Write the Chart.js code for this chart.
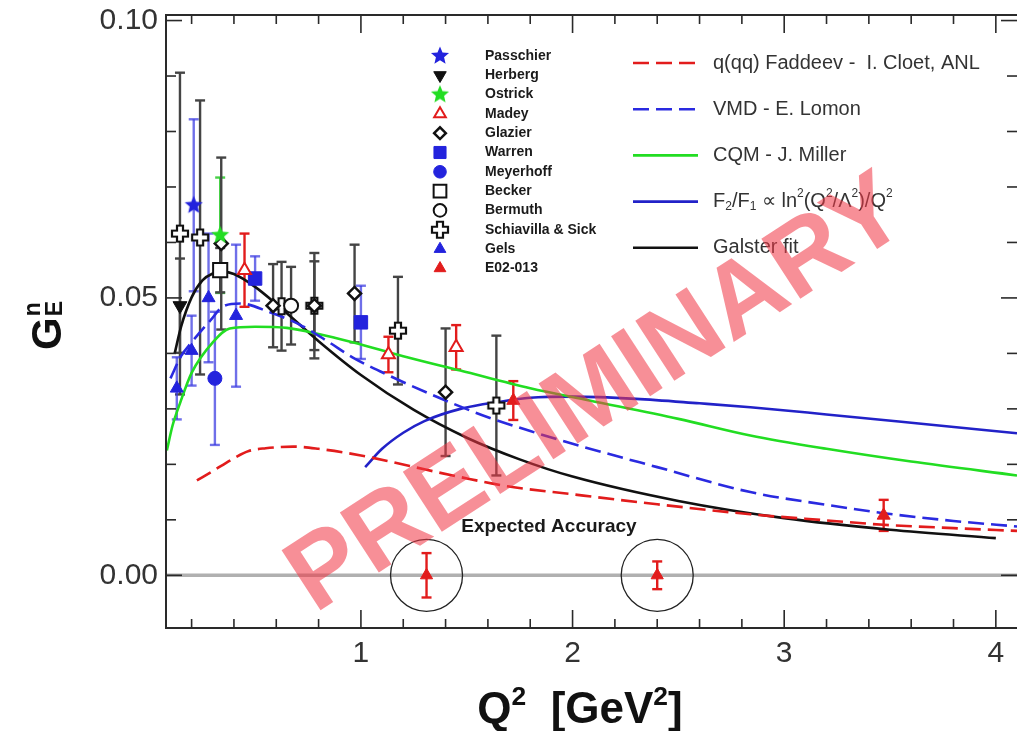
<!DOCTYPE html>
<html>
<head>
<meta charset="utf-8">
<script src="https://cdn.jsdelivr.net/npm/chart.js@4.4.1/dist/chart.umd.min.js"></script>
<style>
  html, body { margin: 0; padding: 0; background: #fff; }
</style>
</head>
<body>
<canvas id="chart" width="1017" height="731"></canvas>
<script>
// ---- measured points (Q2 in GeV^2, GEn, symmetric error) ----
const passchierQ2 = [0.21];
const passchierGE = [0.0667];
const passchierErr = [0.0155];

const herbergQ2 = [0.145];
const herbergGE = [0.0486];
const herbergErr = [0.0085];

const ostrickQ2 = [0.335];
const ostrickGE = [0.0613];
const ostrickErr = [0.0104];

const madeyQ2 = [0.45, 1.13, 1.45];
const madeyGE = [0.0550, 0.0398, 0.0411];
const madeyErr = [0.0066, 0.0032, 0.0040];

const glazierQ2 = [0.34, 0.585, 0.78, 0.97, 1.40];
const glazierGE = [0.0598, 0.0486, 0.0486, 0.0508, 0.0330];
const glazierErr = [0.0155, 0.0075, 0.0080, 0.0088, 0.0115];

const warrenQ2 = [0.50, 1.00];
const warrenGE = [0.0535, 0.0456];
const warrenErr = [0.0040, 0.0066];

const meyerhoffQ2 = [0.31];
const meyerhoffGE = [0.0355];
const meyerhoffErr = [0.0120];

const beckerQ2 = [0.335];
const beckerGE = [0.0550];
const beckerErr = [0.0040];

const bermuthQ2 = [0.67];
const bermuthGE = [0.0486];
const bermuthErr = [0.0070];

const schiavillaQ2 = [0.145, 0.24, 0.625, 0.78, 1.175, 1.64];
const schiavillaGE = [0.0616, 0.0609, 0.0485, 0.0486, 0.0441, 0.0306];
const schiavillaErr = [0.0290, 0.0247, 0.0080, 0.0095, 0.0097, 0.0126];

const gelsQ2 = [0.13, 0.20, 0.28, 0.41];
const gelsGE = [0.0337, 0.0405, 0.0500, 0.0468];
const gelsErr = [0.0056, 0.0063, 0.0116, 0.0128];

const e02Q2 = [1.72, 3.47];
const e02GE = [0.0315, 0.0108];
const e02Err = [0.0035, 0.0028];

const expectedQ2 = [1.31, 2.40];
const expectedGE = [0, 0];
const expectedErr = [0.0040, 0.0025];

// ---- model curves ----
const cloetQ2 = [0.225, 0.3, 0.4, 0.47, 0.55, 0.68, 0.8, 1.0, 1.15, 1.3, 1.47, 1.7, 2.0, 2.4, 2.84, 3.2, 3.47, 3.8, 4.1];
const cloetGE = [0.0171, 0.0188, 0.0211, 0.0224, 0.0229, 0.0232, 0.0228, 0.0216, 0.0204, 0.0191, 0.0177, 0.0160, 0.0146, 0.0128, 0.0110, 0.0099, 0.0091, 0.0085, 0.0080];

const lomonQ2 = [0.10, 0.15, 0.2, 0.29, 0.35, 0.43, 0.57, 0.71, 0.85, 0.96, 1.15, 1.4, 1.6, 1.8, 2.0, 2.4, 2.84, 3.2, 3.47, 3.8, 4.1];
const lomonGE = [0.0355, 0.0395, 0.0420, 0.0460, 0.0485, 0.0490, 0.0474, 0.0452, 0.0420, 0.0393, 0.0357, 0.0315, 0.0285, 0.0260, 0.0237, 0.0195, 0.0150, 0.0127, 0.0112, 0.0098, 0.0088];

const millerQ2 = [0.083, 0.11, 0.145, 0.2, 0.3, 0.38, 0.5, 0.65, 0.8, 0.96, 1.2, 1.47, 1.8, 2.08, 2.5, 2.84, 3.2, 3.6, 4.1];
const millerGE = [0.0225, 0.0270, 0.0310, 0.0365, 0.0420, 0.0445, 0.0448, 0.0446, 0.0435, 0.0420, 0.0395, 0.0369, 0.0337, 0.0315, 0.0282, 0.0252, 0.0228, 0.0205, 0.0180];

const pqcdQ2 = [1.02, 1.1, 1.2, 1.3, 1.47, 1.66, 1.8, 2.0, 2.3, 2.6, 2.84, 3.2, 3.6, 4.1];
const pqcdGE = [0.0195, 0.0228, 0.0257, 0.0278, 0.0300, 0.0313, 0.0320, 0.0322, 0.0318, 0.0310, 0.0303, 0.0290, 0.0275, 0.0256];

const galsterQ2 = [0.12, 0.15, 0.2, 0.25, 0.3, 0.35, 0.4, 0.5, 0.6, 0.8, 1.0, 1.25, 1.5, 1.75, 2.0, 2.5, 3.0, 3.5, 4.0];
const galsterGE = [0.0400, 0.0448, 0.0501, 0.0531, 0.0544, 0.0547, 0.0543, 0.0520, 0.0489, 0.0422, 0.0361, 0.0298, 0.0248, 0.0209, 0.0178, 0.0134, 0.0103, 0.0082, 0.0067];

// ---- axes ----
const xTickLabels = [1, 2, 3, 4];
const yTickLabels = [0.00, 0.05, 0.10];
const xMinorStep = 0.2;
const yMinorStep = 0.01;

const FONT = '"Liberation Sans", Arial, Helvetica, sans-serif';
const BLUE = '#2323dd';
const RED = '#e21c1c';
const GREEN = '#22dd22';

const toPts = (xs, ys) => xs.map((x, i) => ({ x, y: ys[i] }));

function marker(size, draw) {
  const c = document.createElement('canvas');
  c.width = c.height = size;
  draw(c.getContext('2d'), size / 2);
  return c;
}
function starPath(g, c, r) {
  g.beginPath();
  for (let k = 0; k < 10; k++) {
    const rr = k % 2 ? r * 0.45 : r;
    const a = -Math.PI / 2 + k * Math.PI / 5;
    g.lineTo(c + rr * Math.cos(a), c + rr * Math.sin(a));
  }
  g.closePath();
}
const blueStar = marker(22, (g, c) => { starPath(g, c, 9.5); g.fillStyle = BLUE; g.fill(); });
const greenStar = marker(22, (g, c) => { starPath(g, c, 9.5); g.fillStyle = GREEN; g.fill(); });
const openCross = marker(22, (g, c) => {
  const a = 3, b = 8;
  const p = [[-a,-b],[a,-b],[a,-a],[b,-a],[b,a],[a,a],[a,b],[-a,b],[-a,a],[-b,a],[-b,-a],[-a,-a]];
  g.beginPath();
  p.forEach(([u, v]) => g.lineTo(c + u, c + v));
  g.closePath();
  g.fillStyle = '#fff'; g.fill();
  g.lineWidth = 2.2; g.strokeStyle = '#111'; g.stroke();
});

function pointSet(label, q2, ge, err, st) {
  return {
    label, data: toPts(q2, ge), err, showLine: false, order: 0,
    pointStyle: st.style, pointRadius: st.r || 8, pointRotation: st.rot || 0,
    pointBackgroundColor: st.fill || '#111', pointBorderColor: st.line || '#111',
    pointBorderWidth: st.bw == null ? 1 : st.bw, errColor: st.err || '#444'
  };
}
function curveSet(label, q2, ge, color, dash) {
  return {
    label, data: toPts(q2, ge), showLine: true, order: 2, pointRadius: 0,
    borderColor: color, borderWidth: 2.6, borderDash: dash || [], cubicInterpolationMode: 'monotone'
  };
}

const blueErr = 'rgba(55,55,225,0.72)';
const pointSets = [
  pointSet('Passchier', passchierQ2, passchierGE, passchierErr, { style: blueStar, err: blueErr }),
  pointSet('Herberg', herbergQ2, herbergGE, herbergErr, { style: 'triangle', r: 8, rot: 180 }),
  pointSet('Ostrick', ostrickQ2, ostrickGE, ostrickErr, { style: greenStar, err: 'rgba(40,200,40,0.85)' }),
  pointSet('Madey', madeyQ2, madeyGE, madeyErr, { style: 'triangle', r: 7.5, fill: '#fff', line: RED, bw: 2, err: RED }),
  pointSet('Glazier', glazierQ2, glazierGE, glazierErr, { style: 'rectRot', r: 6.5, fill: '#fff', bw: 2.5 }),
  pointSet('Warren', warrenQ2, warrenGE, warrenErr, { style: 'rect', r: 9.5, fill: BLUE, line: BLUE, err: blueErr }),
  pointSet('Meyerhoff', meyerhoffQ2, meyerhoffGE, meyerhoffErr, { style: 'circle', r: 7, fill: BLUE, line: BLUE, err: blueErr }),
  pointSet('Becker', beckerQ2, beckerGE, beckerErr, { style: 'rect', r: 10, fill: '#fff', bw: 2 }),
  pointSet('Bermuth', bermuthQ2, bermuthGE, bermuthErr, { style: 'circle', r: 7, fill: '#fff', bw: 2 }),
  pointSet('Schiavilla & Sick', schiavillaQ2, schiavillaGE, schiavillaErr, { style: openCross }),
  pointSet('Gels', gelsQ2, gelsGE, gelsErr, { style: 'triangle', r: 7.5, fill: BLUE, line: BLUE, err: blueErr }),
  pointSet('E02-013', e02Q2, e02GE, e02Err, { style: 'triangle', r: 7.5, fill: RED, line: RED, err: RED })
];
const expectedSet = pointSet('Expected', expectedQ2, expectedGE, expectedErr, { style: 'triangle', r: 7, fill: RED, line: RED, err: RED });
const circleSet = {
  label: 'Expected ring', data: toPts(expectedQ2, expectedGE), showLine: false, order: 1,
  pointStyle: 'circle', pointRadius: 36, pointBackgroundColor: 'rgba(0,0,0,0)',
  pointBorderColor: '#222', pointBorderWidth: 1.3
};
const curveSets = [
  curveSet('q(qq) Faddeev -  I. Cloet, ANL', cloetQ2, cloetGE, RED, [16, 7]),
  curveSet('VMD - E. Lomon', lomonQ2, lomonGE, '#2a2ae0', [16, 7]),
  curveSet('CQM - J. Miller', millerQ2, millerGE, GREEN),
  curveSet('F2/F1 ~ ln2(Q2/L2)/Q2', pqcdQ2, pqcdGE, '#2222c8'),
  curveSet('Galster fit', galsterQ2, galsterGE, '#111')
];
const pqcdRich = [['F',0],['2',-1],['/F',0],['1',-1],[' \u221D ln',0],['2',1],['(Q',0],['2',1],['/\u039B',0],['2',1],[')/Q',0],['2',1]];

function richText(ctx, parts, x, y, size, weight) {
  let w = 0;
  parts.forEach(([t, m]) => {
    const s = m ? size * 0.6 : size;
    ctx.font = `${weight} ${s}px ${FONT}`;
    ctx.fillText(t, x + w, y + (m > 0 ? -size * 0.42 : m < 0 ? size * 0.25 : 0));
    w += ctx.measureText(t).width;
  });
  return w;
}
function richWidth(ctx, parts, size, weight) {
  let w = 0;
  parts.forEach(([t, m]) => {
    ctx.font = `${weight} ${m ? size * 0.6 : size}px ${FONT}`;
    w += ctx.measureText(t).width;
  });
  return w;
}
function seg(ctx, x1, y1, x2, y2) {
  ctx.beginPath(); ctx.moveTo(x1, y1); ctx.lineTo(x2, y2); ctx.stroke();
}
function noPad(s) {
  s.paddingLeft = 0; s.paddingRight = 0; s.paddingTop = 0; s.paddingBottom = 0;
}

const decor = {
  id: 'decor',
  beforeDatasetsDraw(chart) {
    const { ctx, chartArea: a, scales: { x, y } } = chart;
    ctx.save();
    const y0 = y.getPixelForValue(0);
    ctx.strokeStyle = '#b0b0b0'; ctx.lineWidth = 3.5;
    seg(ctx, a.left, y0, a.right, y0);
    chart.data.datasets.forEach(ds => {
      if (!ds.err) return;
      ctx.strokeStyle = ds.errColor;
      ctx.lineWidth = 2.4;
      ds.data.forEach((p, j) => {
        const px = x.getPixelForValue(p.x);
        const lo = y.getPixelForValue(p.y - ds.err[j]);
        const hi = y.getPixelForValue(p.y + ds.err[j]);
        seg(ctx, px, lo, px, hi);
        seg(ctx, px - 5, lo, px + 5, lo);
        seg(ctx, px - 5, hi, px + 5, hi);
      });
    });
    ctx.restore();
  },
  afterDraw(chart) {
    const { ctx, chartArea: a, scales: { x, y } } = chart;
    ctx.save();
    // frame and inward ticks
    ctx.strokeStyle = '#2a2a2a';
    ctx.lineWidth = 2;
    ctx.strokeRect(a.left, a.top, a.right - a.left + 2, a.bottom - a.top);
    ctx.lineWidth = 1.6;
    for (let k = Math.ceil(y.min / yMinorStep); k * yMinorStep <= y.max + 1e-9; k++) {
      const py = y.getPixelForValue(k * yMinorStep);
      const len = k % 5 === 0 ? 16 : 10;
      seg(ctx, a.left, py, a.left + len, py);
      seg(ctx, a.right, py, a.right - len, py);
    }
    for (let k = Math.ceil(x.min / xMinorStep); k * xMinorStep <= x.max + 1e-9; k++) {
      const px = x.getPixelForValue(k * xMinorStep);
      const len = k % 5 === 0 ? 18 : 9;
      seg(ctx, px, a.bottom, px, a.bottom - len);
      seg(ctx, px, a.top, px, a.top + len);
    }

    // marker legend
    ctx.textAlign = 'left';
    ctx.textBaseline = 'middle';
    pointSets.forEach((ds, i) => {
      const ly = 56 + i * 19.3;
      ctx.fillStyle = ds.pointBackgroundColor;
      ctx.strokeStyle = ds.pointBorderColor;
      ctx.lineWidth = ds.pointBorderWidth;
      Chart.helpers.drawPoint(ctx, {
        pointStyle: ds.pointStyle, radius: ds.pointRadius * 0.9,
        rotation: ds.pointRotation, borderWidth: ds.pointBorderWidth
      }, 440, ly);
      ctx.fillStyle = '#1a1a1a';
      ctx.font = `bold 14px ${FONT}`;
      ctx.fillText(ds.label, 485, ly);
    });

    // line legend
    curveSets.forEach((ds, i) => {
      const ly = 63 + i * 46.2;
      ctx.strokeStyle = ds.borderColor;
      ctx.lineWidth = 2.6;
      ctx.setLineDash(ds.borderDash);
      seg(ctx, 633, ly, 698, ly);
      ctx.setLineDash([]);
      ctx.fillStyle = '#333';
      if (i === 3) richText(ctx, pqcdRich, 713, ly, 20, 'normal');
      else { ctx.font = `20px ${FONT}`; ctx.fillText(ds.label, 713, ly); }
    });

    // expected accuracy label
    ctx.textAlign = 'center';
    ctx.textBaseline = 'alphabetic';
    ctx.fillStyle = '#1a1a1a';
    ctx.font = `bold 19px ${FONT}`;
    ctx.fillText('Expected Accuracy', 549, 532);

    // axis titles
    ctx.textAlign = 'left';
    ctx.fillStyle = '#111';
    const xt = [['Q',0],['2',1],['  [GeV',0],['2',1],[']',0]];
    const w = richWidth(ctx, xt, 44, 'bold');
    richText(ctx, xt, 580 - w / 2, 723, 44, 'bold');

    ctx.save();
    ctx.translate(61, 350);
    ctx.rotate(-Math.PI / 2);
    ctx.font = `bold 42px ${FONT}`;
    ctx.fillText('G', 0, 0);
    const gw = ctx.measureText('G').width;
    ctx.font = `bold 23px ${FONT}`;
    ctx.fillText('E', gw + 1, 1);
    ctx.fillText('n', gw + 1, -21);
    ctx.restore();

    // watermark
    ctx.translate(598, 396);
    ctx.rotate(-33 * Math.PI / 180);
    ctx.textAlign = 'center';
    ctx.textBaseline = 'middle';
    ctx.font = `bold 104px ${FONT}`;
    ctx.fillStyle = 'rgba(240,55,70,0.56)';
    ctx.fillText('PRELIMINARY', 0, 0);
    ctx.restore();
  }
};

new Chart(document.getElementById('chart'), {
  type: 'scatter',
  data: { datasets: [...pointSets, expectedSet, circleSet, ...curveSets] },
  options: {
    responsive: false,
    animation: false,
    devicePixelRatio: 1,
    layout: { autoPadding: false, padding: { top: 15, left: 0, right: 0, bottom: 0 } },
    plugins: { legend: { display: false }, tooltip: { enabled: false } },
    scales: {
      x: {
        type: 'linear', min: 0.079, max: 4.1,
        grid: { display: false, drawTicks: false },
        border: { display: false },
        ticks: { font: { size: 30, family: FONT }, color: '#333', padding: 8, callback: v => String(v) },
        afterBuildTicks: s => { s.ticks = xTickLabels.map(v => ({ value: v })); },
        afterFit: s => { s.height = 103; noPad(s); }
      },
      y: {
        type: 'linear', min: -0.0095, max: 0.101,
        grid: { display: false, drawTicks: false },
        border: { display: false },
        ticks: { font: { size: 30, family: FONT }, color: '#333', padding: 8, callback: v => v.toFixed(2) },
        afterBuildTicks: s => { s.ticks = yTickLabels.map(v => ({ value: v })); },
        afterFit: s => { s.width = 166; noPad(s); }
      }
    }
  },
  plugins: [decor]
});
</script>
</body>
</html>
